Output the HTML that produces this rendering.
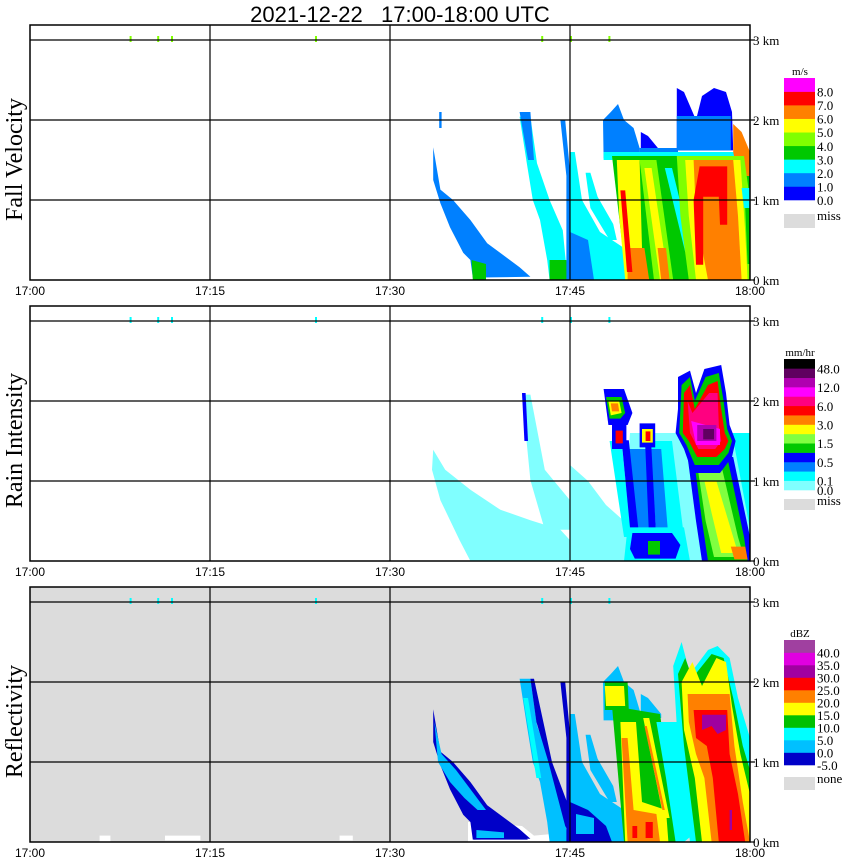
<!DOCTYPE html>
<html><head><meta charset="utf-8"><style>
html,body{margin:0;padding:0;background:#fff;}
svg{display:block;}
.ser{font-family:"Liberation Serif",serif;}
.san{font-family:"Liberation Sans",sans-serif;}
</style></head><body>
<svg id="chart" width="850" height="868" viewBox="0 0 850 868" xmlns="http://www.w3.org/2000/svg">
<text x="400" y="22" text-anchor="middle" class="san" font-size="22" xml:space="preserve">2021-12-22   17:00-18:00 UTC</text>
</svg>
<script>
// ---- data (minutes after 17:00, height km) ----
const timeTicks = ["17:00","17:15","17:30","17:45","18:00"];
const tickMinutes = [0,15,30,45,60];
const kmTicks = [0,1,2,3];
const topDots = [8.3,10.6,11.75,23.75,42.6,45.0,48.2];

const fvColors = ["#0000ff","#0080ff","#00ffff","#00c800","#80ff00","#ffff00","#ff8000","#ff0000","#ff00ff"];
const fvLabels = ["0.0","1.0","2.0","3.0","4.0","5.0","6.0","7.0","8.0"];
const riColors = ["#80ffff","#00ffff","#0080ff","#0000ff","#00c800","#80ff40","#ffff00","#ff8000","#ff0000","#ff0080","#ff00ff","#b000b0","#600060","#000000"];
const riLabels = ["0.0","0.1","0.5","1.5","3.0","6.0","12.0","48.0"];
const rfColors = ["#0000c8","#00c0ff","#00ffff","#00c000","#ffff00","#ff8000","#ff0000","#a000a0","#e000e0","#a040a0"];
const rfLabels = ["-5.0","0.0","5.0","10.0","15.0","20.0","25.0","30.0","35.0","40.0"];

const fvPolys = [
 [1,[[33.6,1.66],[34.2,1.13],[35.25,1.0],[36.7,0.75],[38.1,0.46],[40.8,0.16],[41.7,0.04],[36.9,0.03],[36.7,0.25],[36.1,0.34],[35,0.66],[34.2,0.96],[33.6,1.25]]],
 [3,[[36.8,0.25],[38,0.2],[38,0],[36.9,0]]],
 [1,[[34.1,2.1],[34.3,2.1],[34.3,1.9],[34.1,1.9]]],
 [2,[[40.8,2.04],[41.4,1.46],[41.9,1.0],[42.5,0.75],[43.1,0.25],[43.3,0],[44.8,0],[44.4,0.62],[43.3,1.0],[42.25,1.46],[41.7,2.04]]],
 [1,[[40.8,2.1],[41.7,2.1],[42.0,1.5],[41.5,1.5]]],
 [3,[[43.3,0.25],[44.7,0.25],[44.8,0],[43.3,0]]],
 [1,[[44.2,2.0],[44.6,2.0],[45.1,1.2],[45.1,0],[44.7,0],[44.7,1.3]]],
 [2,[[45.0,1.6],[45.4,1.6],[46.0,1.0],[47.5,0.6],[49.5,0.4],[49.8,0],[45.0,0]]],
 [1,[[45.0,0.6],[46.5,0.5],[47,0],[45.0,0]]],
 [2,[[46.3,1.34],[46.7,1.34],[47.3,1.04],[48.6,0.7],[48.9,0.5],[48.3,0.5],[46.7,0.9]]],
 [1,[[47.75,2.0],[48.4,2.1],[49.0,2.2],[49.5,2.0],[50.3,1.9],[50.8,1.65],[50.8,1.52],[47.8,1.52]]],
 [0,[[50.9,1.85],[51.5,1.8],[52.6,1.6],[52.6,1.55],[50.9,1.55]]],
 [0,[[53.9,2.4],[54.5,2.35],[55.5,2.0],[56.0,2.3],[57.0,2.4],[58.0,2.35],[58.5,2.1],[58.6,1.62],[53.9,1.62]]],
 [1,[[53.9,2.05],[58.4,2.05],[58.4,1.62],[53.9,1.62]]],
 [1,[[50.8,1.65],[54,1.65],[54,1.55],[50.8,1.55]]],
 [2,[[47.8,1.6],[58.7,1.6],[58.7,1.5],[47.8,1.5]]],
 [3,[[48.5,1.55],[60,1.55],[60,0],[49.7,0]]],
 [6,[[58.6,1.95],[59.3,1.85],[60,1.6],[60,1.3],[59,1.3],[58.6,1.6]]],
 [5,[[48.9,1.5],[50.8,1.5],[51.0,0.4],[49.8,0.0],[49.6,0.0],[49.1,0.8]]],
 [6,[[49.8,0.4],[51.2,0.4],[51.6,0],[49.8,0]]],
 [7,[[49.2,1.12],[49.6,1.12],[50.2,0.1],[49.75,0.1]]],
 [4,[[50.8,1.5],[52.2,1.5],[53.6,0],[52,0]]],
 [5,[[51.2,1.4],[51.8,1.4],[53.2,0],[52.5,0]]],
 [6,[[52.3,0.4],[53,0.4],[53.3,0],[52.6,0]]],
 [2,[[52.9,1.4],[53.5,1.4],[55.2,0.35],[54.6,0.35]]],
 [4,[[53.9,1.55],[59.5,1.55],[60,1.0],[60,0],[54.9,0],[54.2,0.8]]],
 [5,[[54.6,1.5],[59.2,1.5],[59.6,0.6],[59.8,0],[55.5,0],[54.9,0.8]]],
 [6,[[55.3,1.5],[58.6,1.5],[59.0,0.8],[59.3,0],[56.5,0],[55.5,0.8]]],
 [7,[[55.8,1.42],[58.1,1.42],[58.1,0.69],[57.5,0.69],[57.4,1.04],[56.1,1.04],[56.1,0.19],[55.5,0.19],[55.3,1.0]]],
 [2,[[59.3,1.15],[60,1.15],[60,0.9],[59.5,0.9]]],
 [3,[[59.6,0.9],[60,0.9],[60,0.2],[59.8,0.2]]]
];

const riPolys = [
 [0,[[33.6,1.39],[34.6,1.14],[36.7,0.89],[39.2,0.64],[41.7,0.51],[44.2,0.39],[45,0.26],[45,0],[36.7,0],[35.8,0.26],[34.2,0.76],[33.5,1.14]]],
 [0,[[41,2.08],[41.7,2.08],[42.9,1.14],[45,0.76],[45,0.39],[42.9,0.39],[41.7,1.01]]],
 [3,[[41.0,2.1],[41.3,2.1],[41.5,1.5],[41.2,1.5]]],
 [0,[[45,1.2],[46.5,1.0],[48,0.7],[49.5,0.5],[50,1.6],[60,1.6],[60,0],[45,0]]],
 [1,[[48.3,1.5],[49.3,1.5],[50.1,0.3],[49.5,0.3]]],
 [2,[[49.8,1.4],[51.3,1.4],[52,0.3],[50.6,0.3]]],
 [1,[[51.7,1.5],[53.5,1.5],[54.5,0.3],[52.2,0.3]]],
 [2,[[51.7,1.4],[52.6,1.4],[53.2,0.3],[52.2,0.3]]],
 [3,[[49.3,1.51],[49.9,1.51],[50.8,0.26],[50.1,0.26]]],
 [3,[[51.25,1.51],[51.75,1.51],[52.2,0.26],[51.6,0.26]]],
 [1,[[49.8,0.42],[54.5,0.42],[55,0],[49.5,0]]],
 [3,[[50.2,0.35],[53.5,0.35],[54.2,0.2],[53.8,0.03],[50.4,0.03],[50,0.15]]],
 [4,[[51.5,0.25],[52.5,0.25],[52.5,0.08],[51.5,0.08]]],
 [3,[[47.8,2.15],[49.5,2.15],[50.2,1.85],[49.8,1.7],[48.2,1.7]]],
 [4,[[48.0,2.05],[49.3,2.05],[49.6,1.85],[49.2,1.78],[48.3,1.78]]],
 [6,[[48.2,2.0],[49.1,2.0],[49.3,1.85],[48.4,1.82]]],
 [7,[[48.4,1.97],[49.0,1.97],[49.1,1.87],[48.5,1.87]]],
 [3,[[48.5,1.7],[49.7,1.7],[49.7,1.4],[48.5,1.4]]],
 [8,[[48.8,1.63],[49.4,1.63],[49.4,1.47],[48.8,1.47]]],
 [3,[[50.8,1.72],[52.1,1.72],[52.1,1.42],[50.8,1.42]]],
 [6,[[51.0,1.65],[51.9,1.65],[51.9,1.48],[51.0,1.48]]],
 [8,[[51.3,1.62],[51.7,1.62],[51.7,1.5],[51.3,1.5]]],
 [1,[[58.5,1.6],[60,1.6],[60,0.4]]],
 [3,[[54.8,1.3],[58.6,1.3],[60,0.3],[60,0],[56.0,0],[55.5,0.5]]],
 [4,[[55.3,1.3],[58.1,1.3],[59.5,0.3],[59.8,0],[56.5,0],[56.0,0.5]]],
 [5,[[55.6,1.2],[57.6,1.2],[59,0.3],[59.5,0.05],[57.0,0.05],[56.3,0.5]]],
 [6,[[56.2,1.0],[57.2,1.0],[58.6,0.3],[59.0,0.1],[57.6,0.1],[56.8,0.6]]],
 [7,[[58.4,0.18],[59.6,0.18],[59.8,0.02],[58.7,0.02]]],
 [3,[[54.0,2.3],[55.0,2.38],[55.5,2.1],[56.2,2.4],[57.6,2.45],[58.0,2.1],[58.3,1.7],[58.8,1.5],[58.5,1.3],[57.5,1.1],[55.2,1.1],[54.5,1.4],[53.8,1.6],[54.0,1.9]]],
 [4,[[54.3,2.2],[55.0,2.3],[55.4,2.0],[56.3,2.3],[57.4,2.35],[57.8,2.0],[58.1,1.65],[58.5,1.5],[58.2,1.35],[57.4,1.2],[55.4,1.2],[54.7,1.45],[54.1,1.6],[54.2,1.9]]],
 [8,[[54.5,2.1],[55.0,2.2],[55.4,1.9],[56.5,2.2],[57.3,2.25],[57.6,1.9],[57.9,1.6],[58.2,1.5],[57.9,1.4],[57.2,1.3],[55.6,1.3],[54.9,1.5],[54.4,1.6]]],
 [9,[[54.8,2.0],[55.2,1.85],[56.6,2.1],[57.3,2.1],[57.4,1.7],[57.6,1.5],[57.1,1.4],[55.7,1.4],[55.0,1.6]]],
 [10,[[55.1,1.75],[57.5,1.65],[57.5,1.45],[55.5,1.45]]],
 [11,[[55.6,1.7],[57.2,1.7],[57.2,1.5],[55.6,1.5]]],
 [12,[[56.1,1.65],[57.0,1.65],[57.0,1.52],[56.1,1.52]]]
];

const rfPolys = [
 [-1,[[36.5,0.25],[41,0.2],[42,0.08],[43.5,0.1],[43.5,0],[36.5,0]]],
 [-1,[[5.8,0.08],[6.7,0.08],[6.7,0],[5.8,0]]],
 [-1,[[11.25,0.08],[14.2,0.08],[14.2,0.02],[11.25,0.02]]],
 [-1,[[25.8,0.08],[26.9,0.08],[26.9,0.02],[25.8,0.02]]],
 [0,[[33.6,1.66],[34.2,1.13],[35.25,1.0],[36.7,0.75],[38.1,0.46],[40.8,0.16],[41.7,0.04],[36.9,0.03],[36.7,0.25],[36.1,0.34],[35,0.66],[34.2,0.96],[33.6,1.25]]],
 [1,[[33.7,1.5],[34.3,1.1],[35.5,0.9],[37,0.6],[38,0.4],[37.3,0.4],[36.2,0.55],[35,0.75],[34,1.0]]],
 [0,[[37,0.2],[40.5,0.15],[41.5,0.03],[37,0.03]]],
 [1,[[37.2,0.15],[39.5,0.12],[39.5,0.05],[37.2,0.05]]],
 [1,[[40.8,2.04],[41.4,1.46],[41.9,1.0],[42.5,0.75],[43.1,0.25],[43.3,0],[44.8,0],[44.4,0.62],[43.3,1.0],[42.25,1.46],[41.7,2.04]]],
 [0,[[41.7,2.04],[42.0,2.04],[43.5,1.0],[45,0.4],[45,0.1],[44.6,0.2],[43.2,1.0],[42.2,1.5]]],
 [2,[[41.1,1.8],[41.5,1.8],[42.6,0.8],[42.2,0.8]]],
 [0,[[44.2,2.0],[44.6,2.0],[45.1,1.2],[45.1,0],[44.7,0],[44.7,1.3]]],
 [1,[[45.0,1.6],[45.4,1.6],[46.0,1.0],[47.5,0.6],[49.5,0.4],[49.8,0],[45.0,0]]],
 [0,[[45,0.5],[46.5,0.4],[48,0.2],[48.5,0],[45,0]]],
 [1,[[45.5,0.35],[47,0.3],[47,0.1],[45.5,0.1]]],
 [1,[[46.3,1.34],[46.7,1.34],[47.3,1.04],[48.6,0.7],[48.9,0.5],[48.3,0.5],[46.7,0.9]]],
 [1,[[47.75,2.0],[48.4,2.1],[49.0,2.2],[49.5,2.0],[50.3,1.9],[50.8,1.65],[50.8,1.52],[47.8,1.52]]],
 [1,[[50.9,1.85],[51.5,1.8],[52.6,1.6],[52.6,1.55],[50.9,1.55]]],
 [3,[[48.5,1.7],[52.5,1.6],[54,0],[49.5,0]]],
 [3,[[47.9,2.0],[49.8,2.0],[49.9,1.65],[47.9,1.65]]],
 [4,[[47.9,1.95],[49.5,1.95],[49.6,1.7],[48.0,1.7]]],
 [4,[[49.2,1.5],[50.5,1.5],[51,0.5],[53,0.4],[53.2,0],[49.6,0]]],
 [5,[[49.3,1.3],[49.8,1.3],[50.3,0.4],[52.2,0.35],[52.5,0],[49.8,0]]],
 [6,[[50.2,0.2],[50.6,0.2],[50.6,0.05],[50.2,0.05]]],
 [6,[[51.3,0.25],[51.9,0.25],[51.9,0.05],[51.3,0.05]]],
 [4,[[51.1,1.55],[51.6,1.55],[53.3,0.3],[52.8,0.3]]],
 [5,[[51.2,1.45],[51.4,1.45],[52.9,0.4],[52.7,0.4]]],
 [2,[[52.2,1.5],[54.2,1.5],[55.3,0.1],[54.5,0],[53.8,0],[53,0.8]]],
 [2,[[53.6,2.2],[54.3,2.5],[55,2.1],[56.5,2.4],[57.3,2.45],[58.3,2.3],[59,1.8],[60,1.3],[60,0],[55,0],[54,1.2]]],
 [3,[[54.0,2.1],[54.6,2.3],[55.2,2.05],[56.8,2.35],[57.8,2.3],[58.6,1.8],[59.4,1.2],[60,0.9],[60,0],[55.5,0],[54.5,1.2]]],
 [4,[[54.3,2.0],[55.2,2.25],[56.0,1.95],[57.2,2.3],[58.0,2.25],[58.5,1.7],[59.2,1.1],[60,0.6],[60,0],[56,0],[55.4,0.8],[54.5,1.4]]],
 [5,[[54.8,1.85],[58.3,1.85],[58.7,1.2],[59.4,0.5],[60,0],[56.8,0],[56.2,0.8],[55.5,1.1],[54.9,1.5]]],
 [6,[[55.3,1.65],[58.1,1.65],[58.3,1.1],[59.0,0.6],[59.6,0],[57.4,0],[56.9,0.8],[56.4,1.2],[55.5,1.3]]],
 [7,[[56.0,1.59],[58.0,1.59],[58.0,1.4],[57.3,1.35],[56.8,1.45],[56.0,1.4]]],
 [7,[[58.3,0.4],[58.5,0.4],[58.5,0.15],[58.3,0.15]]]
];

// ---- layout ----
const X0 = 30, PXMIN = 12, PXKM = 80;
const panels = [
 {name:"fall-velocity", title:"Fall Velocity", top:25, base:280, polys:fvPolys, colors:fvColors, bg:"#ffffff", dot:"#80ff00"},
 {name:"rain-intensity", title:"Rain Intensity", top:306, base:561, polys:riPolys, colors:riColors, bg:"#ffffff", dot:"#00ffff"},
 {name:"reflectivity", title:"Reflectivity", top:587, base:842, polys:rfPolys, colors:rfColors, bg:"#dcdcdc", dot:"#00ffff"}
];
const NS = "http://www.w3.org/2000/svg";
const svg = document.getElementById("chart");
function xs(t){ return X0 + t*PXMIN; }
function ys(p,h){ return p.base - h*PXKM; }
function mk(tag, attrs, parent){ const e=document.createElementNS(NS,tag); for(const k in attrs) e.setAttribute(k,attrs[k]); (parent||svg).appendChild(e); return e; }

panels.forEach(p=>{
  const g = mk("g",{});
  
  
  const bg = mk("rect",{x:X0,y:p.top,width:720,height:p.base-p.top,fill:p.bg},g);
  
  
  p.polys.forEach(pp=>{
    const pts = pp[1].map(q=>xs(q[0]).toFixed(1)+","+ys(p,q[1]).toFixed(1)).join(" ");
    const fill = pp[0] < 0 ? "#ffffff" : p.colors[pp[0]];
    const el = mk("polygon",{points:pts,fill:fill},g);
    
    
  });
  topDots.forEach(t=>{
    const d = mk("rect",{x:xs(t),y:ys(p,3)-4,width:2,height:6,fill:p.dot},g);
    
    
  });
  [1,2,3].forEach(k=>{
    const l = mk("line",{x1:X0,x2:755,y1:ys(p,k),y2:ys(p,k),stroke:"#000","stroke-width":1.2},g);
    
    
  });
  mk("line",{x1:750,x2:755,y1:p.base,y2:p.base,stroke:"#000","stroke-width":1.2},g);
  [15,30,45].forEach(m=>{
    const l = mk("line",{x1:xs(m),x2:xs(m),y1:p.top,y2:p.base,stroke:"#000","stroke-width":1.2},g);
    
    
  });
  const fr = mk("rect",{x:X0,y:p.top,width:720,height:p.base-p.top,fill:"none",stroke:"#000","stroke-width":1.5},g);
  
  
  kmTicks.forEach(k=>{
    const t = mk("text",{x:753,y:ys(p,k)+5,"font-size":13,class:"ser"},g);
    t.textContent = k+" km";
    
    
  });
  tickMinutes.forEach((m,i)=>{
    const t = mk("text",{x:xs(m),y:p.base+15,"font-size":12,"text-anchor":"middle",class:"san"},g);
    t.textContent = timeTicks[i];
    
    
  });
  const cy = (p.top+p.base)/2+7;
  const tt = mk("text",{x:0,y:0,"font-size":24,"text-anchor":"middle",class:"ser",transform:"translate(22,"+cy+") rotate(-90)"},g);
  tt.textContent = p.title;
  
  
});

// ---- legends ----
function legend(name, unit, colors, labels, yTop, yBot, labelIdx, missText, missY, missH){
  const g = mk("g",{});
  
  
  const n = colors.length, bh = (yBot-yTop)/n;
  const u = mk("text",{x:800,y:yTop-3,"font-size":11,"text-anchor":"middle",class:"ser"},g);
  u.textContent = unit;
  
  
  for(let i=0;i<n;i++){
    const r = mk("rect",{x:784,y:yBot-(i+1)*bh,width:31,height:bh+0.3,fill:colors[i]},g);
    
    
  }
  labels.forEach((lb,i)=>{
    const yy = yBot - labelIdx[i]*bh;
    const t = mk("text",{x:817,y:yy+5,"font-size":13,class:"ser"},g);
    t.textContent = lb;
    
    
  });
  const m = mk("rect",{x:784,y:missY,width:31,height:missH,fill:"#dcdcdc"},g);
  
  
  const mt = mk("text",{x:817,y:missY+6,"font-size":13,class:"ser"},g);
  mt.textContent = missText;
  
  
}
legend("fall-velocity","m/s",fvColors,fvLabels,78,200,[0,1,2,3,4,5,6,7,8],"miss",214,14);
legend("rain-intensity","mm/hr",riColors,riLabels,359,490,[0,1,3,5,7,9,11,13],"miss",499,11);
legend("reflectivity","dBZ",rfColors,rfLabels,640,765,[0,1,2,3,4,5,6,7,8,9],"none",777,13);
</script>
</body></html>
